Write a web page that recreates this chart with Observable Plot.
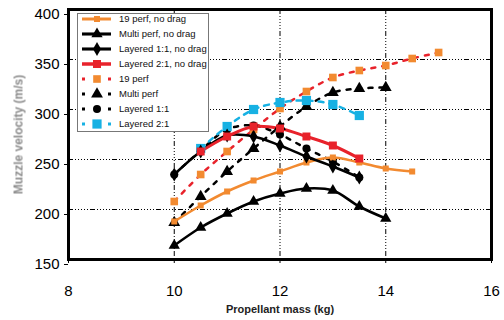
<!DOCTYPE html>
<html>
<head>
<meta charset="utf-8">
<script src="https://cdn.jsdelivr.net/npm/d3@7"></script>
<script src="https://cdn.jsdelivr.net/npm/@observablehq/plot@0.6"></script>
<style>
  html, body { margin: 0; padding: 0; background: #fff; }
  #chart { width: 504px; height: 320px; }
</style>
</head>
<body>
<div id="chart"></div>
<script>
// ---- data ----
const xTicks = [8, 10, 12, 14, 16];
const yTicks = [150, 200, 250, 300, 350, 400];
const xGrid = [10, 12, 14];
const yGrid = [200, 250, 300, 350];

const perf19NoDragX = [10, 10.5, 11, 11.5, 12, 12.5, 13, 13.5, 14, 14.5];
const perf19NoDragY = [188, 204, 218, 229, 238, 247, 252, 247, 241, 238];

const multiNoDragX = [10, 10.5, 11, 11.5, 12, 12.5, 13, 13.5, 14];
const multiNoDragY = [164, 182, 196, 208, 216, 221, 219, 203, 191];

const lay11NoDragX = [10, 10.5, 11, 11.5, 12, 12.5, 13, 13.5];
const lay11NoDragY = [235, 258, 274, 273, 264, 253, 243, 232];

const lay21NoDragX = [10.5, 11, 11.5, 12, 12.5, 13, 13.5];
const lay21NoDragY = [258, 273, 283, 281, 273, 264, 251];

const perf19X = [10, 10.5, 11, 11.5, 12, 12.5, 13, 13.5, 14, 14.5, 15];
const perf19Y = [208, 235, 258, 280, 301, 318, 332, 339, 344, 351, 357];

const multiX = [10, 10.5, 11, 11.5, 12, 12.5, 13, 13.5, 14];
const multiY = [187, 213, 238, 261, 283, 303, 317, 321, 322];

const lay11X = [10, 10.5, 11, 11.5, 12, 12.5, 13, 13.5];
const lay11Y = [235, 259, 280, 284, 275, 261, 248, 232];

const lay21X = [10.5, 11, 11.5, 12, 12.5, 13, 13.5];
const lay21Y = [261, 283, 300, 307, 309, 305, 294];

const seriesNames = ["19 perf, no drag", "Multi perf, no drag", "Layered 1:1, no drag", "Layered 2:1, no drag",
                     "19 perf", "Multi perf", "Layered 1:1", "Layered 2:1"];

// ---- styles ----
const ORANGE = "#f28a30", RED = "#e8222b", CYAN = "#17b1e3", BLACK = "#000";
const DOT = "4,7";
const styles = [
  {name: seriesNames[0], xs: perf19NoDragX, ys: perf19NoDragY, line: ORANGE, lw: 2.5, dash: null, sym: "square", fill: ORANGE, r: 3.4},
  {name: seriesNames[1], xs: multiNoDragX, ys: multiNoDragY, line: BLACK, lw: 2.6, dash: null, sym: "triangle", fill: BLACK, r: 4.2},
  {name: seriesNames[2], xs: lay11NoDragX, ys: lay11NoDragY, line: BLACK, lw: 2.6, dash: null, sym: "diamond", fill: BLACK, r: 4.2},
  {name: seriesNames[3], xs: lay21NoDragX, ys: lay21NoDragY, line: RED, lw: 3, dash: null, sym: "square", fill: RED, r: 4.5},
  {name: seriesNames[4], xs: perf19X, ys: perf19Y, line: RED, lw: 2.5, dash: DOT, sym: "square", fill: ORANGE, r: 4.3},
  {name: seriesNames[5], xs: multiX, ys: multiY, line: BLACK, lw: 2.5, dash: DOT, sym: "triangle", fill: BLACK, r: 4.4},
  {name: seriesNames[6], xs: lay11X, ys: lay11Y, line: BLACK, lw: 2.5, dash: DOT, sym: "circle", fill: BLACK, r: 4},
  {name: seriesNames[7], xs: lay21X, ys: lay21Y, line: CYAN, lw: 2.5, dash: "5,6", sym: "square", fill: CYAN, r: 5.2}
];

const rows = s => s.xs.map((x, i) => ({x, y: s.ys[i]}));

const GRID_DASH = "5,2,1,2,1,2,1,2,1,2,1,2";

const marks = [
  Plot.ruleX(xGrid, {stroke: "#000", strokeWidth: 1, strokeDasharray: GRID_DASH}),
  Plot.ruleY(yGrid, {stroke: "#000", strokeWidth: 1, strokeDasharray: GRID_DASH}),
  Plot.axisX({ticks: xTicks, tickSize: 4, tickPadding: 22, fontSize: 15, label: null}),
  Plot.axisY({ticks: yTicks, tickSize: 4, tickPadding: 5, fontSize: 15, label: null, dy: 5}),
];
// lines: dotted ones first, then solid, markers after
const order = [4, 5, 6, 7, 0, 1, 2, 3];
for (const i of order) {
  const s = styles[i];
  marks.push(Plot.line(rows(s), {x: "x", y: "y", stroke: s.line, strokeWidth: s.lw,
    strokeDasharray: s.dash, curve: "catmull-rom"}));
}
for (const i of order) {
  const s = styles[i];
  marks.push(Plot.dot(rows(s), {x: "x", y: "y", symbol: s.sym, r: s.r, fill: s.fill, stroke: "none"}));
}
marks.push(Plot.frame({stroke: "#000", strokeWidth: 3}));
marks.push(Plot.text(["Propellant mass (kg)"], {frameAnchor: "bottom", dy: 53, fontSize: 11, fontWeight: "bold", fill: "#222"}));
marks.push(Plot.text(["Muzzle velocity (m/s)"], {frameAnchor: "left", textAnchor: "middle", dx: -50, dy: 0, rotate: -90, fontSize: 12, fontWeight: "bold", fill: "#8c8c8c"}));

const chart = Plot.plot({
  width: 504,
  height: 320,
  marginLeft: 68,
  marginRight: 13,
  marginTop: 9,
  marginBottom: 61,
  style: {fontFamily: "'Liberation Sans', Arial, sans-serif", background: "#fff", color: "#000"},
  x: {domain: [8, 16]},
  y: {domain: [150, 400]},
  marks
});
document.getElementById("chart").appendChild(chart);

// ---- legend inside the plot ----
const svg = d3.select(chart);
svg.selectAll("text").filter(function(){ return this.textContent === "Muzzle velocity (m/s)"; })
  .style("filter", "blur(0.7px)");
const lg = svg.append("g").attr("font-family", "'Liberation Sans', Arial, sans-serif");
lg.append("rect").attr("x", 77.5).attr("y", 13.5).attr("width", 131).attr("height", 118)
  .attr("fill", "#fff").attr("stroke", "#777").attr("stroke-width", 1);
const sym = {square: d3.symbolSquare, triangle: d3.symbolTriangle, diamond: d3.symbolDiamond, circle: d3.symbolCircle};
styles.forEach((s, i) => {
  const cy = 19 + i * 15;
  lg.append("line").attr("x1", 82).attr("x2", 111).attr("y1", cy).attr("y2", cy)
    .attr("stroke", s.line).attr("stroke-width", s.lw + 0.5)
    .attr("stroke-dasharray", s.dash ? "3,10" : null);
  lg.append("path").attr("transform", `translate(97,${cy})`)
    .attr("d", d3.symbol(sym[s.sym], Math.PI * s.r * s.r)())
    .attr("fill", s.fill);
  lg.append("text").attr("x", 119).attr("y", cy).attr("dy", "0.35em")
    .attr("text-anchor", "start")
    .attr("font-size", 9.5).attr("fill", "#111").text(s.name);
});
</script>
</body>
</html>
